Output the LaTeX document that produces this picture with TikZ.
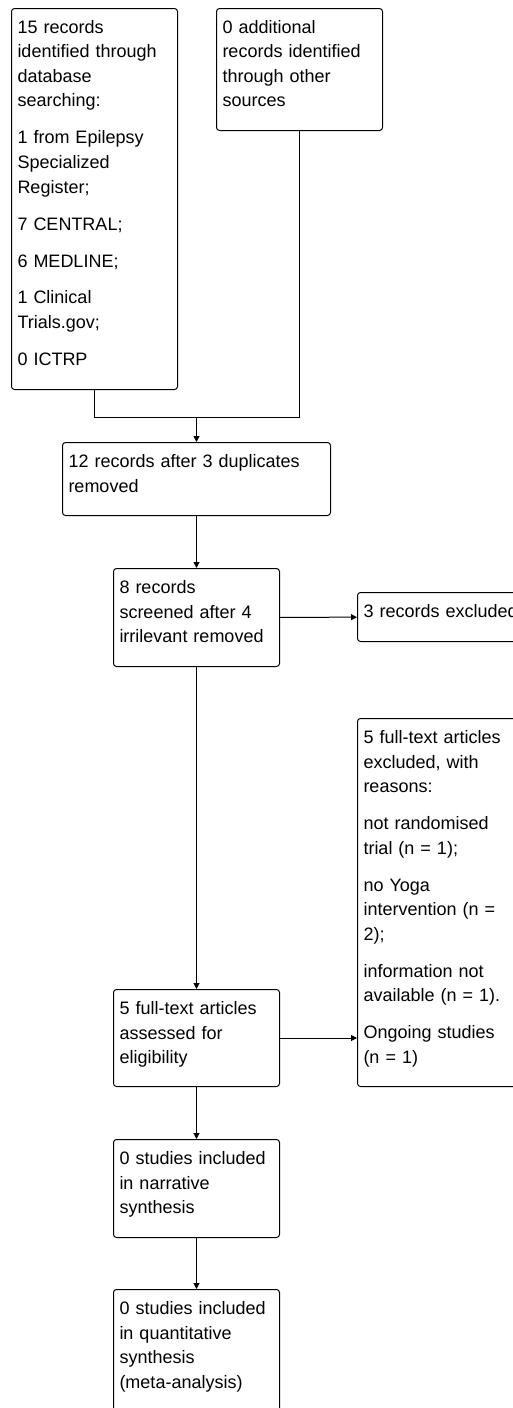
\documentclass[tikz,border=0pt]{standalone}
\usepackage{fontspec}
\setmainfont{Liberation Sans}
\usetikzlibrary{arrows.meta}
\tikzset{
  flowbox/.style={draw, rounded corners=3pt, anchor=north west, align=left,
    inner xsep=6pt, inner ysep=0pt, text width=154pt, text height=25pt},
}
\begin{document}
\begin{tikzpicture}[x=1pt,y=-1pt,line width=1pt,>={Triangle[length=6pt,width=6pt]},every node/.style={font=\fontsize{18}{24.5}\selectfont}]
\clip (0,0) rectangle (513,1408);
\node[flowbox,text depth=356pt] (search) at (11,8) {15 records\\identified through\\database\\searching:\\[12.5pt]1 from Epilepsy\\Specialized\\Register;\\[12.5pt]7 CENTRAL;\\[12.5pt]6 MEDLINE;\\[12.5pt]1 Clinical\\Trials.gov;\\[12.5pt]0 ICTRP};
\node[flowbox,text depth=97pt] (other) at (216,8) {0 additional\\records identified\\through other\\sources};
\node[flowbox,text width=256pt,text depth=48pt] (dup) at (62,442) {12 records after 3 duplicates\\removed};
\node[flowbox,text depth=73pt] (screen) at (113,568) {8 records\\screened after 4\\irrilevant removed};
\node[flowbox,text width=180pt,text depth=24pt] (excl) at (357,592) {3 records excluded};
\node[flowbox,text depth=343pt] (ftexcl) at (357,718) {5 full-text articles\\excluded, with\\reasons:\\[12.5pt]not randomised\\trial (n = 1);\\[12.5pt]no Yoga\\intervention (n =\\2);\\[12.5pt]information not\\available (n = 1).\\[12.5pt]Ongoing studies\\(n = 1)};
\node[flowbox,text depth=72pt] (full) at (113,989) {5 full-text articles\\assessed for\\eligibility};
\node[flowbox,text depth=73pt] (narr) at (113,1139) {0 studies included\\in narrative\\synthesis};
\node[flowbox,text depth=97pt] (quant) at (113,1289) {0 studies included\\in quantitative\\synthesis\\(meta-analysis)};
\path (dup.north) ++(0,-25) coordinate (merge);
\draw (search.south) |- (merge);
\draw (other.south) |- (merge);
\draw[->] (merge) -- (dup.north);
\draw[->] (dup) -- (screen);
\draw[->] (screen) -- (excl);
\draw[->] (screen) -- (full);
\draw[->] (full.east) -- (full.east -| ftexcl.west);
\draw[->] (full) -- (narr);
\draw[->] (narr) -- (quant);
\end{tikzpicture}
\end{document}
